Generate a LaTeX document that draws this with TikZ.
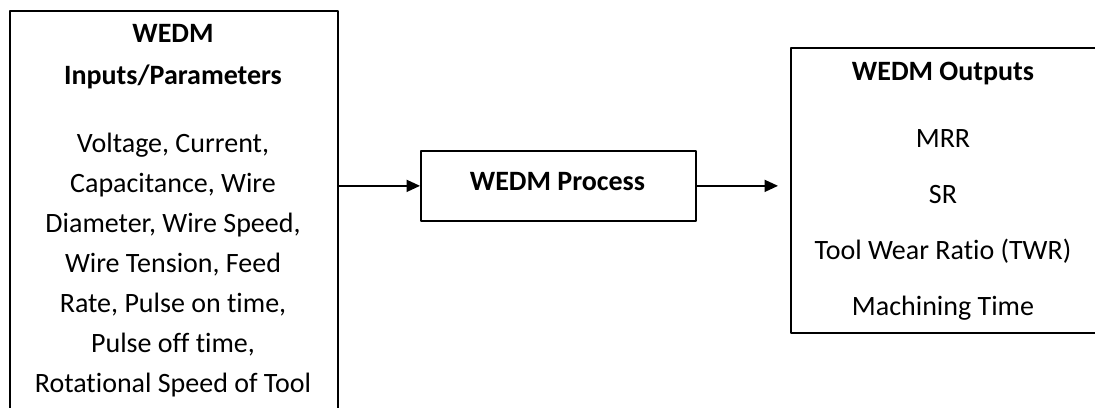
\documentclass[tikz,border=0pt]{standalone}
\usepackage{fontspec}
\setmainfont{Carlito}[Ligatures={NoCommon,NoRequired,NoContextual}]
\usetikzlibrary{arrows.meta}

\begin{document}
\begin{tikzpicture}[x=0.75pt,y=-0.75pt,line cap=round,line join=round,
    box/.style={draw,line width=1.3pt,inner sep=0pt,anchor=north west},
    txt/.style={align=center,inner sep=0pt,font=\fontsize{21}{30}\selectfont},
    arr/.style={line width=1pt,-{Triangle[length=10pt,width=9pt]}}]
  \useasboundingbox (0,0) rectangle (1095,407);
  \clip (0,0) rectangle (1095,407);
  \node[box,minimum width=246pt,minimum height=307.5pt] (inputs) at (9,10) {};
  \node[box,minimum width=206.25pt,minimum height=52.5pt] (proc) at (420,150) {};
  \node[box,minimum width=230.25pt,minimum height=213.75pt] (outputs) at (790,47) {};
  \node[txt,font=\bfseries\fontsize{21}{31.5}\selectfont] (inTitle) at (173,57) {WEDM\\Inputs/Parameters};
  \node[txt] (inList) at (173,265) {Voltage, Current,\\Capacitance, Wire\\Diameter, Wire Speed,\\Wire Tension, Feed\\Rate, Pulse on time,\\Pulse off time,\\Rotational Speed of Tool};
  \node[txt,font=\bfseries\fontsize{21}{30}\selectfont] (procText) at (557.5,182) {WEDM Process};
  \node[txt,font=\bfseries\fontsize{21}{30}\selectfont] (outTitle) at (943,74) {WEDM Outputs};
  \node[txt,font=\fontsize{21}{42}\selectfont] (outList) at (943,225) {MRR\\SR\\Tool Wear Ratio (TWR)\\Machining Time};
  \draw[arr] (proc.west -| inputs.east) -- (proc.west);
  \draw[arr,shorten >=9pt] (proc.east) -- (proc.east -| outputs.west);
\end{tikzpicture}
\end{document}
